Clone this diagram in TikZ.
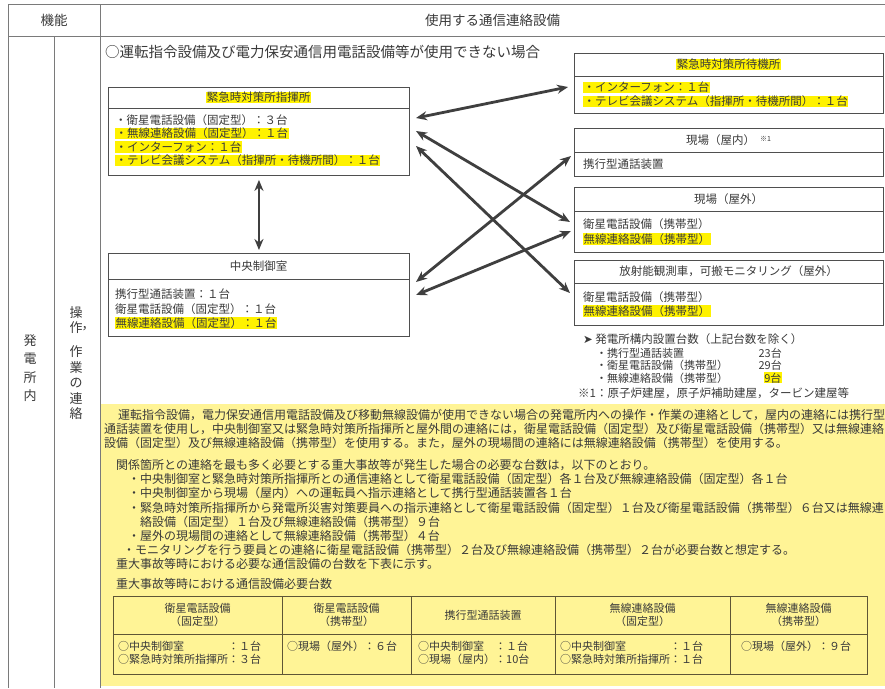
\documentclass[tikz,border=0pt]{standalone}
\usepackage{fontspec}
\usepackage{xcolor}
\setmainfont{Noto Sans CJK JP}
\newfontfamily\symfont{DejaVu Sans}
\usetikzlibrary{arrows.meta,positioning,calc}

\definecolor{ink}{HTML}{3A3A3A}
\definecolor{rulegray}{HTML}{7A7A7A}
\definecolor{boxgray}{HTML}{4F4F4F}
\definecolor{hlyellow}{HTML}{FFF200}
\definecolor{paleyellow}{HTML}{FFF496}
\definecolor{arrowgray}{HTML}{3F3F3F}
\definecolor{tablebrown}{HTML}{5E5636}

\newcommand{\hl}[1]{{\setlength{\fboxsep}{0.4pt}\colorbox{hlyellow}{#1}}}
\newcommand{\fsz}[2]{\fontsize{#1}{#2}\selectfont}

\tikzset{
  frame/.style={draw=rulegray, line width=0.9pt},
  unitbox/.style={draw=boxgray, line width=0.9pt, inner sep=0pt, anchor=north west},
  unitline/.style={draw=boxgray, line width=0.9pt},
  unittitle/.style={text=ink, font=\fsz{11.5}{14}, inner sep=0pt},
  unitbody/.style={text=ink, font=\fsz{11.5}{13.5}, align=left, anchor=west, inner sep=0pt},
  note/.style={text=ink, font=\fsz{11}{12.5}, align=left, anchor=west, inner sep=0pt},
  para/.style={text=ink, font=\fsz{12}{14.1}, align=left, anchor=west, inner sep=0pt},
  vtext/.style={text=ink, font=\fsz{13}{18.5}, align=center, inner sep=0pt},
  link/.style={<->, >={Stealth[length=11pt,width=9pt]}, line width=2.8pt, draw=arrowgray},
  tbl/.style={draw=tablebrown, line width=0.9pt},
  cellhead/.style={text=ink, font=\fsz{11}{13}, align=center, inner sep=0pt},
  cellbody/.style={text=ink, font=\fsz{11}{13}, align=left, anchor=north west, inner sep=0pt}
}

\begin{document}
\begin{tikzpicture}[x=1pt, y=-1pt]
    \useasboundingbox (0,0) rectangle (885,688);
    \fill[white] (0,0) rectangle (885,688);

    % yellow explanation area
    \fill[paleyellow] (100,404) rectangle (885,686);

    % table frame
    \draw[frame] (8,4) -- (885,4);
    \draw[frame] (8,36) -- (885,36);
    \draw[frame] (8,4) -- (8,688);
    \draw[frame] (100,4) -- (100,688);
    \draw[frame] (54,36) -- (54,688);
    \node[text=ink, font=\fsz{13.5}{16}] (func) at (54,20) {機能};
    \node[text=ink, font=\fsz{13.5}{16}] (equip) at (492.5,20) {使用する通信連絡設備};

    % left column labels
    \node[vtext] (plant) at (30,368) {発\\電\\所\\内};
    \node[vtext, font=\fsz{13}{15}] (opA) at (76,320) {操\\作};
    \node[vtext] (opcomma) at (88,329) {，};
    \node[vtext, font=\fsz{13}{15.5}] (opB) at (76,383) {作\\業\\の\\連\\絡};

    \node[para, font=\fsz{14.5}{16}] (case) at (105,52) {○運転指令設備及び電力保安通信用電話設備等が使用できない場合};

    % emergency HQ
    \node[unitbox, minimum width=301pt, minimum height=88pt] (hq) at (108,87) {};
    \draw[unitline] (108,108) -- (409,108);
    \node[unittitle] (hqtitle) at (258.5,97.5) {\hl{緊急時対策所指揮所}};
    \node[unitbody] (hqbody) at (115,140.5) {・衛星電話設備（固定型）：３台\\\hl{・無線連絡設備（固定型）：１台}\\\hl{・インターフォン：１台}\\\hl{・テレビ会議システム（指揮所・待機所間）：１台}};

    % main control room
    \node[unitbox, minimum width=301pt, minimum height=83pt] (ccr) at (108,253) {};
    \draw[unitline] (108,279) -- (409,279);
    \node[unittitle] (ccrtitle) at (258.5,266) {中央制御室};
    \node[unitbody, font=\fsz{11.5}{14.5}] (ccrbody) at (115,309) {携行型通話装置：１台\\衛星電話設備（固定型）：１台\\\hl{無線連絡設備（固定型）：１台}};

    % standby room
    \node[unitbox, minimum width=309pt, minimum height=60pt] (stb) at (574,53) {};
    \draw[unitline] (574,76) -- (883,76);
    \node[unittitle] (stbtitle) at (728.5,64.5) {\hl{緊急時対策所待機所}};
    \node[unitbody, font=\fsz{11.5}{14}] (stbbody) at (583,94.5) {\hl{・インターフォン：１台}\\\hl{・テレビ会議システム（指揮所・待機所間）：１台}};

    % field indoor
    \node[unitbox, minimum width=309pt, minimum height=48pt] (fin) at (574,128) {};
    \draw[unitline] (574,152) -- (883,152);
    \node[unittitle] (fintitle) at (728.5,140) {現場（屋内）\hspace{5pt}\raisebox{3pt}{\fsz{7}{8}※1}};
    \node[unitbody] (finbody) at (583,164) {携行型通話装置};

    % field outdoor
    \node[unitbox, minimum width=309pt, minimum height=65pt] (fout) at (574,187) {};
    \draw[unitline] (574,211) -- (883,211);
    \node[unittitle] (fouttitle) at (728.5,199) {現場（屋外）};
    \node[unitbody, font=\fsz{11.5}{15}] (foutbody) at (583,232) {衛星電話設備（携帯型）\\\hl{無線連絡設備（携帯型）}};

    % monitoring
    \node[unitbox, minimum width=309pt, minimum height=65pt] (mon) at (574,260) {};
    \draw[unitline] (574,283) -- (883,283);
    \node[unittitle] (montitle) at (728.5,271.5) {放射能観測車，可搬モニタリング（屋外）};
    \node[unitbody, font=\fsz{11.5}{14}] (monbody) at (583,304) {衛星電話設備（携帯型）\\\hl{無線連絡設備（携帯型）}};

    % counts
    \node[note, font=\fsz{11.5}{13}] (plantcount) at (583,339) {{\symfont ➤}\ 発電所構内設置台数（上記台数を除く）};
    \node[note] (countitems) at (596,365.5) {・携行型通話装置\\・衛星電話設備（携帯型）\\・無線連絡設備（携帯型）};
    \node[note, align=right, anchor=east] (countnums) at (782,365.5) {23台\\29台\\\hl{9台}};
    \node[note, font=\fsz{11.5}{13}] (footnote) at (578,393) {※1：原子炉建屋，原子炉補助建屋，タービン建屋等};

    % arrows
    \coordinate (hqToStb) at (416,118);
    \coordinate (stbIn) at (568,87);
    \coordinate (hqToOut) at (416,131);
    \coordinate (foutInA) at (570,222);
    \coordinate (hqToMon) at (416,146);
    \coordinate (monIn) at (570,293);
    \coordinate (ccrToIn) at (416,282);
    \coordinate (finIn) at (571,156);
    \coordinate (ccrToOut) at (416,295);
    \coordinate (foutInB) at (571,231);
    \draw[link] (hqToStb) -- (stbIn);
    \draw[link] (hqToOut) -- (foutInA);
    \draw[link] (hqToMon) -- (monIn);
    \draw[link] (ccrToIn) -- (finIn);
    \draw[link] (ccrToOut) -- (foutInB);
    \draw[link, shorten <=4pt, shorten >=3pt] (hq.south) -- (ccr.north);

    % explanation text
    \node[para] (rule1) at (104,429) {\hspace*{14pt}運転指令設備，電力保安通信用電話設備及び移動無線設備が使用できない場合の発電所内への操作・作業の連絡として，屋内の連絡には携行型\\通話装置を使用し，中央制御室又は緊急時対策所指揮所と屋外間の連絡には，衛星電話設備（固定型）及び衛星電話設備（携帯型）又は無線連絡\\設備（固定型）及び無線連絡設備（携帯型）を使用する。また，屋外の現場間の連絡には無線連絡設備（携帯型）を使用する。};
    \node[para] (rule2) at (116,514.5) {関係箇所との連絡を最も多く必要とする重大事故等が発生した場合の必要な台数は，以下のとおり。\\\hspace*{12pt}・中央制御室と緊急時対策所指揮所との通信連絡として衛星電話設備（固定型）各１台及び無線連絡設備（固定型）各１台\\\hspace*{12pt}・中央制御室から現場（屋内）への運転員へ指示連絡として携行型通話装置各１台\\\hspace*{12pt}・緊急時対策所指揮所から発電所災害対策要員への指示連絡として衛星電話設備（固定型）１台及び衛星電話設備（携帯型）６台又は無線連\\\hspace*{24pt}絡設備（固定型）１台及び無線連絡設備（携帯型）９台\\\hspace*{12pt}・屋外の現場間の連絡として無線連絡設備（携帯型）４台\\\hspace*{7pt}・モニタリングを行う要員との連絡に衛星電話設備（携帯型）２台及び無線連絡設備（携帯型）２台が必要台数と想定する。\\重大事故等時における必要な通信設備の台数を下表に示す。};
    \node[para] (tabcap) at (116,584) {重大事故等時における通信設備必要台数};

    % required units table
    \draw[tbl] (113,596) rectangle (867,674);
    \draw[tbl] (113,634) -- (867,634);
    \foreach \x in {282,411,555,730}
        \draw[tbl] (\x,596) -- (\x,674);
    \node[cellhead] (th1) at (197.5,615) {衛星電話設備\\（固定型）};
    \node[cellhead] (th2) at (346.5,615) {衛星電話設備\\（携帯型）};
    \node[cellhead] (th3) at (483,615) {携行型通話装置};
    \node[cellhead] (th4) at (642.5,615) {無線連絡設備\\（固定型）};
    \node[cellhead] (th5) at (798.5,615) {無線連絡設備\\（携帯型）};
    \node[cellbody] (td1) at (118,641) {○中央制御室\hspace*{4em}：１台\\○緊急時対策所指揮所：３台};
    \node[cellbody] (td2) at (287,641) {○現場（屋外）：６台};
    \node[cellbody] (td3) at (418,641) {○中央制御室\hspace*{1em}：１台\\○現場（屋内）：10台};
    \node[cellbody] (td4) at (560,641) {○中央制御室\hspace*{4em}：１台\\○緊急時対策所指揮所：１台};
    \node[cellbody] (td5) at (741,641) {○現場（屋外）：９台};
\end{tikzpicture}
\end{document}
